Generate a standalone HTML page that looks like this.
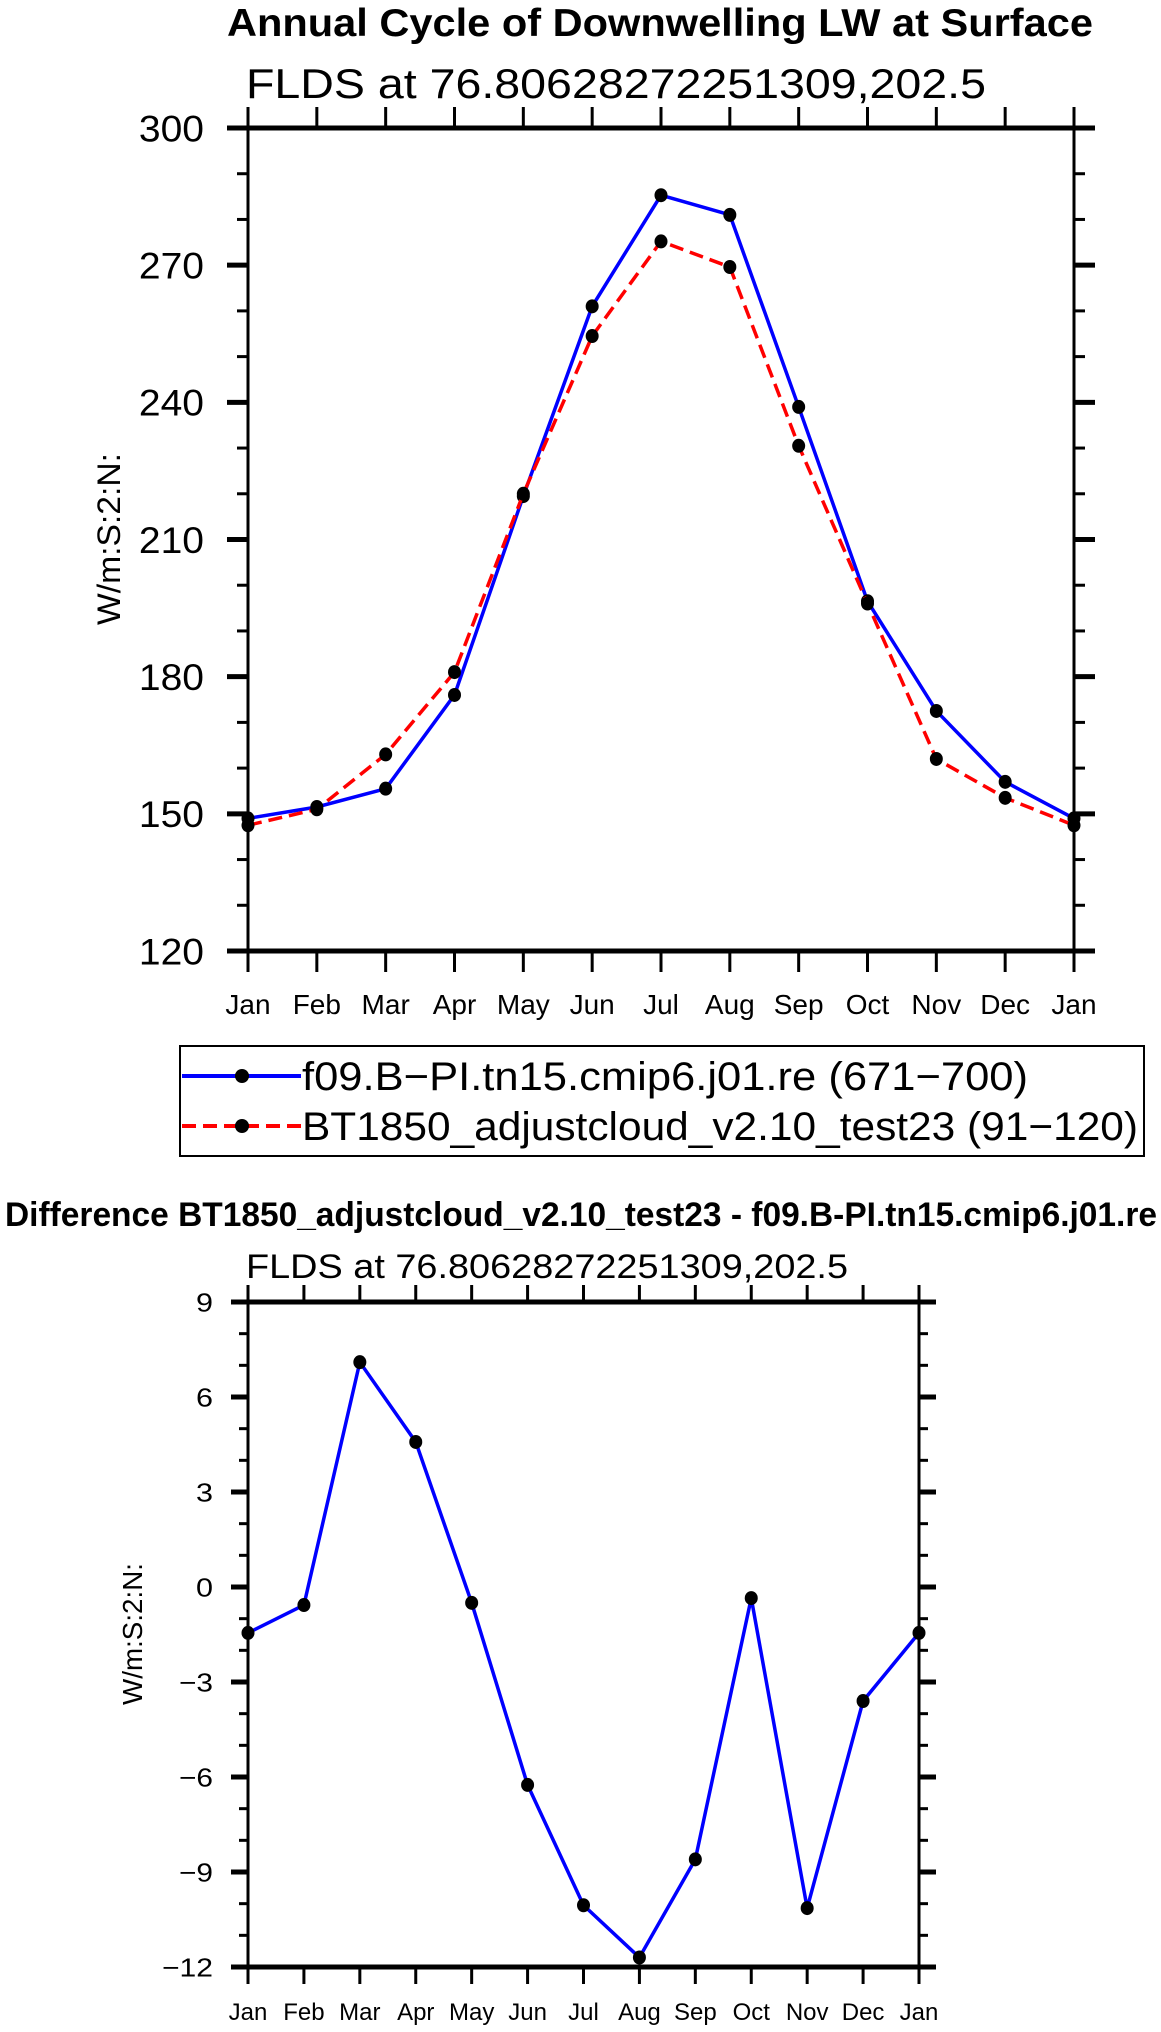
<!DOCTYPE html>
<html><head><meta charset="utf-8"><style>
html,body{margin:0;padding:0;background:#fff;}
svg{display:block;font-family:"Liberation Sans",sans-serif;}
</style></head><body>
<svg id="fig" width="1161" height="2032" viewBox="0 0 1161 2032" xmlns="http://www.w3.org/2000/svg">
<text x="660" y="36" font-size="39" font-weight="bold" text-anchor="middle" textLength="866" lengthAdjust="spacingAndGlyphs">Annual Cycle of Downwelling LW at Surface</text>
<text x="246" y="98" font-size="42" textLength="740" lengthAdjust="spacingAndGlyphs">FLDS at 76.80628272251309,202.5</text>
<g id="top"></g>
<g>
<rect x="180" y="1046" width="964" height="110" fill="none" stroke="#000" stroke-width="2"/>
<g>
<line x1="182" y1="1076" x2="301" y2="1076" stroke="#0000ff" stroke-width="4"/>
<circle cx="242" cy="1076" r="7" fill="#000"/>
<text x="302" y="1090" font-size="40" textLength="726" lengthAdjust="spacingAndGlyphs">f09.B−PI.tn15.cmip6.j01.re (671−700)</text>
</g>
<g>
<line x1="182" y1="1126" x2="301" y2="1126" stroke="#ff0000" stroke-width="4" stroke-dasharray="14,7"/>
<circle cx="242" cy="1126" r="7" fill="#000"/>
<text x="302" y="1140" font-size="40" textLength="836" lengthAdjust="spacingAndGlyphs">BT1850_adjustcloud_v2.10_test23 (91−120)</text>
</g>
</g>
<text x="581" y="1226" font-size="34" font-weight="bold" text-anchor="middle" textLength="1152" lengthAdjust="spacingAndGlyphs">Difference BT1850_adjustcloud_v2.10_test23 - f09.B-PI.tn15.cmip6.j01.re</text>
<text x="246" y="1278" font-size="34" textLength="602" lengthAdjust="spacingAndGlyphs">FLDS at 76.80628272251309,202.5</text>
<g id="bot"></g>
</svg>
<script>
const months = ["Jan","Feb","Mar","Apr","May","Jun","Jul","Aug","Sep","Oct","Nov","Dec","Jan"];
const controlFLDS = [149, 151.5, 155.5, 176, 219.5, 261, 285.3, 281, 239, 196.5, 172.5, 157, 149];
const testFLDS = [147.5, 151, 163, 181, 220, 254.5, 275.2, 269.6, 230.5, 196, 162, 153.5, 147.5];
const diffFLDS = [-1.45, -0.57, 7.1, 4.58, -0.5, -6.25, -10.05, -11.7, -8.6, -0.35, -10.14, -3.6, -1.45];
const topYTicks = [120, 150, 180, 210, 240, 270, 300];
const botYTicks = [-12, -9, -6, -3, 0, 3, 6, 9];

const NS = "http://www.w3.org/2000/svg";
function mk(parent, tag, attrs, text) {
  const e = document.createElementNS(NS, tag);
  for (const k in attrs) e.setAttribute(k, attrs[k]);
  if (text !== undefined) e.textContent = text;
  parent.appendChild(e);
  return e;
}

function drawChart(g, cfg) {
  const {L, R, T, B, ymin, ymax, yticks, minorStep, series, tickFont, charW, xFont, xLabY, yLabX, ylabel, ylabelX, ylabelY, ylabelFont, ylabelLen, majLen, minLen} = cfg;
  const n = months.length;
  const xs = i => L + (R - L) * i / (n - 1);
  const ys = v => B - (v - ymin) / (ymax - ymin) * (B - T);
  const fr = mk(g, 'rect', {x: L, y: T, width: R - L, height: B - T, fill: 'none', stroke: '#000', 'stroke-width': 3});
  
  
  mk(g, 'line', {x1: L - majLen, y1: T, x2: R + majLen, y2: T, stroke: '#000', 'stroke-width': 5});
  mk(g, 'line', {x1: L - majLen, y1: B, x2: R + majLen, y2: B, stroke: '#000', 'stroke-width': 5});
  months.forEach((m, i) => {
    const x = xs(i);
    mk(g, 'line', {x1: x, y1: B, x2: x, y2: B + majLen, stroke: '#000', 'stroke-width': 3});
    mk(g, 'line', {x1: x, y1: T, x2: x, y2: T - majLen, stroke: '#000', 'stroke-width': 3});
    const t = mk(g, 'text', {x: x, y: xLabY, 'font-size': xFont, 'text-anchor': 'middle'}, m);
    
    
  });
  for (let v = ymin; v <= ymax + 1e-9; v += minorStep) {
    const y = ys(v);
    mk(g, 'line', {x1: L - minLen, y1: y, x2: L, y2: y, stroke: '#000', 'stroke-width': 3});
    mk(g, 'line', {x1: R, y1: y, x2: R + minLen, y2: y, stroke: '#000', 'stroke-width': 3});
  }
  yticks.forEach(v => {
    const y = ys(v);
    mk(g, 'line', {x1: L - majLen, y1: y, x2: L, y2: y, stroke: '#000', 'stroke-width': 5});
    mk(g, 'line', {x1: R, y1: y, x2: R + majLen, y2: y, stroke: '#000', 'stroke-width': 5});
    const s = v < 0 ? '−' + Math.abs(v) : String(v);
    const t = mk(g, 'text', {x: yLabX, y: y + tickFont * 0.36, 'font-size': tickFont, 'text-anchor': 'end', textLength: s.length * charW, lengthAdjust: 'spacingAndGlyphs'}, s);
    
    
  });
  const yl = mk(g, 'text', {x: ylabelX, y: ylabelY, 'font-size': ylabelFont, 'text-anchor': 'middle', textLength: ylabelLen, lengthAdjust: 'spacingAndGlyphs', transform: `rotate(-90 ${ylabelX} ${ylabelY})`}, ylabel);
  
  
  series.forEach(s => {
    const pts = s.values.map((v, i) => xs(i) + ',' + ys(v)).join(' ');
    const pl = mk(g, 'polyline', {points: pts, fill: 'none', stroke: s.color, 'stroke-width': 3.5, 'stroke-dasharray': s.dash || 'none'});
    
    
    s.values.forEach((v, i) => {
      const c = mk(g, 'ellipse', {cx: xs(i), cy: ys(v), rx: 6.5, ry: 7, fill: '#000'});
      
      
    });
  });
}

drawChart(document.getElementById('top'), {
  L: 248, R: 1074, T: 128, B: 951, ymin: 120, ymax: 300, yticks: topYTicks, minorStep: 10,
  series: [{name: 'control', values: controlFLDS, color: '#0000ff'}, {name: 'test', values: testFLDS, color: '#ff0000', dash: '14,7'}],
  tickFont: 37, charW: 21.7, xFont: 28, xLabY: 1014, yLabX: 204, ylabel: 'W/m:S:2:N:', ylabelX: 120, ylabelY: 539, ylabelFont: 32, ylabelLen: 172, majLen: 21, minLen: 11
});
drawChart(document.getElementById('bot'), {
  L: 248, R: 919, T: 1302, B: 1967, ymin: -12, ymax: 9, yticks: botYTicks, minorStep: 1,
  series: [{name: 'difference', values: diffFLDS, color: '#0000ff'}],
  tickFont: 26, charW: 17, xFont: 24, xLabY: 2020, yLabX: 213, ylabel: 'W/m:S:2:N:', ylabelX: 142, ylabelY: 1634, ylabelFont: 28, ylabelLen: 142, majLen: 17, minLen: 9
});
</script>
</body></html>
